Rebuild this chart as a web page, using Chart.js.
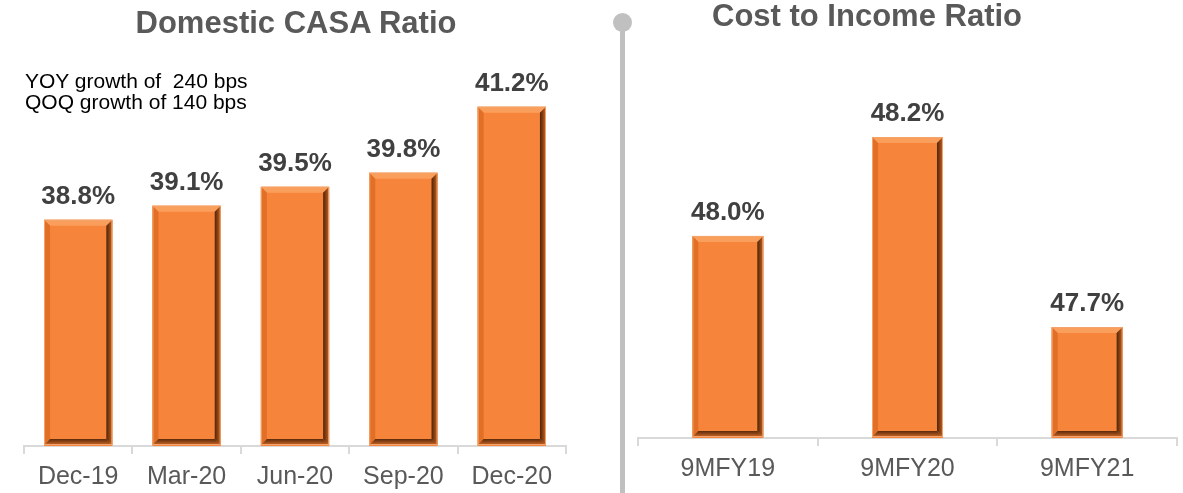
<!DOCTYPE html>
<html>
<head>
<meta charset="utf-8">
<script src="https://cdn.jsdelivr.net/npm/chart.js@4.4.1/dist/chart.umd.min.js"></script>
<style>
  html, body { margin: 0; padding: 0; background: #ffffff; }
  body { width: 1183px; height: 493px; position: relative; overflow: hidden; font-family: "Liberation Sans", Arial, sans-serif; }
  .box { position: absolute; top: 0; height: 493px; }
  #leftBox { left: 0; width: 610px; }
  #rightBox { left: 630px; width: 553px; }
  .title { position: absolute; font-weight: bold; font-size: 31px; color: #595959; white-space: nowrap; transform: translateX(-50%); line-height: 1; }
  #note { position: absolute; left: 25px; top: 70px; font-size: 21px; color: #000000; line-height: 21px; white-space: pre; }
  #divider { position: absolute; left: 620px; top: 22px; width: 5px; height: 471px; background: #c0c0c0; }
  #dot { position: absolute; left: 613px; top: 13px; width: 19px; height: 19px; border-radius: 50%; background: #c0c0c0; }
</style>
</head>
<body>
<div class="box" id="leftBox"><canvas id="chartCasa"></canvas></div>
<div class="box" id="rightBox"><canvas id="chartCost"></canvas></div>
<div class="title" style="left:296px; top:7px;">Domestic CASA Ratio</div>
<div class="title" style="left:867px; top:0px;">Cost to Income Ratio</div>
<div id="note">YOY growth of  240 bps
QOQ growth of 140 bps</div>
<div id="divider"></div>
<div id="dot"></div>
<script>
// data
const casaLabels = ['Dec-19', 'Mar-20', 'Jun-20', 'Sep-20', 'Dec-20'];
const casaValues = [38.8, 39.1, 39.5, 39.8, 41.2];
const costLabels = ['9MFY19', '9MFY20', '9MFY21'];
const costValues = [47.96, 48.22, 47.72];

const ORANGE = '#F6843A';

// bevel look of the bars
const bevelPlugin = {
    id: 'bevel',
    afterDatasetsDraw(chart) {
        const ctx = chart.ctx;
        const meta = chart.getDatasetMeta(0);
        meta.data.forEach(bar => {
            const p = bar.getProps(['x', 'y', 'base', 'width'], true);
            const l = p.x - p.width / 2, r = p.x + p.width / 2;
            const t = p.y, b = Math.min(p.base, chart.chartArea.bottom - 1);
            const d = 6;
            ctx.save();
            // top
            ctx.fillStyle = '#FA9E5C';
            poly(ctx, [[l, t], [r, t], [r - d, t + d], [l + d, t + d]]);
            // left
            ctx.fillStyle = '#E26F26';
            poly(ctx, [[l, t], [l + d, t + d], [l + d, b - d], [l, b]]);
            // right
            let g = ctx.createLinearGradient(r - d, 0, r, 0);
            g.addColorStop(0, '#4e2409');
            g.addColorStop(0.5, '#8a4214');
            g.addColorStop(1, '#c9641f');
            ctx.fillStyle = g;
            poly(ctx, [[r, t], [r, b], [r - d, b - d], [r - d, t + d]]);
            // bottom
            g = ctx.createLinearGradient(0, b - d, 0, b);
            g.addColorStop(0, '#5a2a0a');
            g.addColorStop(0.5, '#94481a');
            g.addColorStop(1, '#d06a24');
            ctx.fillStyle = g;
            poly(ctx, [[l, b], [r, b], [r - d, b - d], [l + d, b - d]]);
            // outline
            ctx.strokeStyle = '#F3A46C';
            ctx.lineWidth = 1;
            ctx.strokeRect(l + 0.5, t + 0.5, p.width - 1, b - t - 1);
            ctx.restore();
        });
    }
};

function poly(ctx, pts) {
    ctx.beginPath();
    ctx.moveTo(pts[0][0], pts[0][1]);
    for (let i = 1; i < pts.length; i++) ctx.lineTo(pts[i][0], pts[i][1]);
    ctx.closePath();
    ctx.fill();
}

// value labels on top of bars
const valueLabelPlugin = {
    id: 'valueLabel',
    afterDatasetsDraw(chart) {
        const ctx = chart.ctx;
        const meta = chart.getDatasetMeta(0);
        const values = chart.data.datasets[0].data;
        ctx.save();
        ctx.font = 'bold 26px "Liberation Sans", Arial, sans-serif';
        ctx.fillStyle = '#404040';
        ctx.textAlign = 'center';
        ctx.textBaseline = 'alphabetic';
        meta.data.forEach((bar, i) => {
            ctx.fillText(values[i].toFixed(1) + '%', bar.x, bar.y - 16);
        });
        ctx.restore();
    }
};

function makeChart(id, labels, values, opts) {
    const ctx = document.getElementById(id).getContext('2d');
    return new Chart(ctx, {
        type: 'bar',
        data: {
            labels: labels,
            datasets: [{
                data: values,
                backgroundColor: ORANGE,
                borderWidth: 0,
                categoryPercentage: 1,
                barPercentage: opts.barPct
            }]
        },
        options: {
            responsive: true,
            maintainAspectRatio: false,
            animation: false,
            layout: { padding: { left: opts.padLeft, right: opts.padRight, top: 60, bottom: 0 } },
            plugins: { legend: { display: false }, tooltip: { enabled: false } },
            scales: {
                x: {
                    afterFit: s => { s.height = opts.axisH; },
                    border: { display: true, color: '#d9d9d9', width: 2 },
                    grid: { display: true, drawOnChartArea: false, drawTicks: true, tickLength: 8, color: '#d9d9d9', lineWidth: 2, offset: true },
                    ticks: { color: '#595959', padding: 8, font: { family: '"Liberation Sans", Arial, sans-serif', size: 25 } }
                },
                y: {
                    display: false,
                    min: opts.min,
                    max: opts.max
                }
            }
        },
        plugins: [bevelPlugin, valueLabelPlugin]
    });
}

makeChart('chartCasa', casaLabels, casaValues, { barPct: 0.63, padLeft: 24, padRight: 44, axisH: 47, min: 34.0, max: 42.19 });
makeChart('chartCost', costLabels, costValues, { barPct: 0.395, padLeft: 8, padRight: 6, axisH: 55, min: 47.428, max: 48.423 });
</script>
</body>
</html>
